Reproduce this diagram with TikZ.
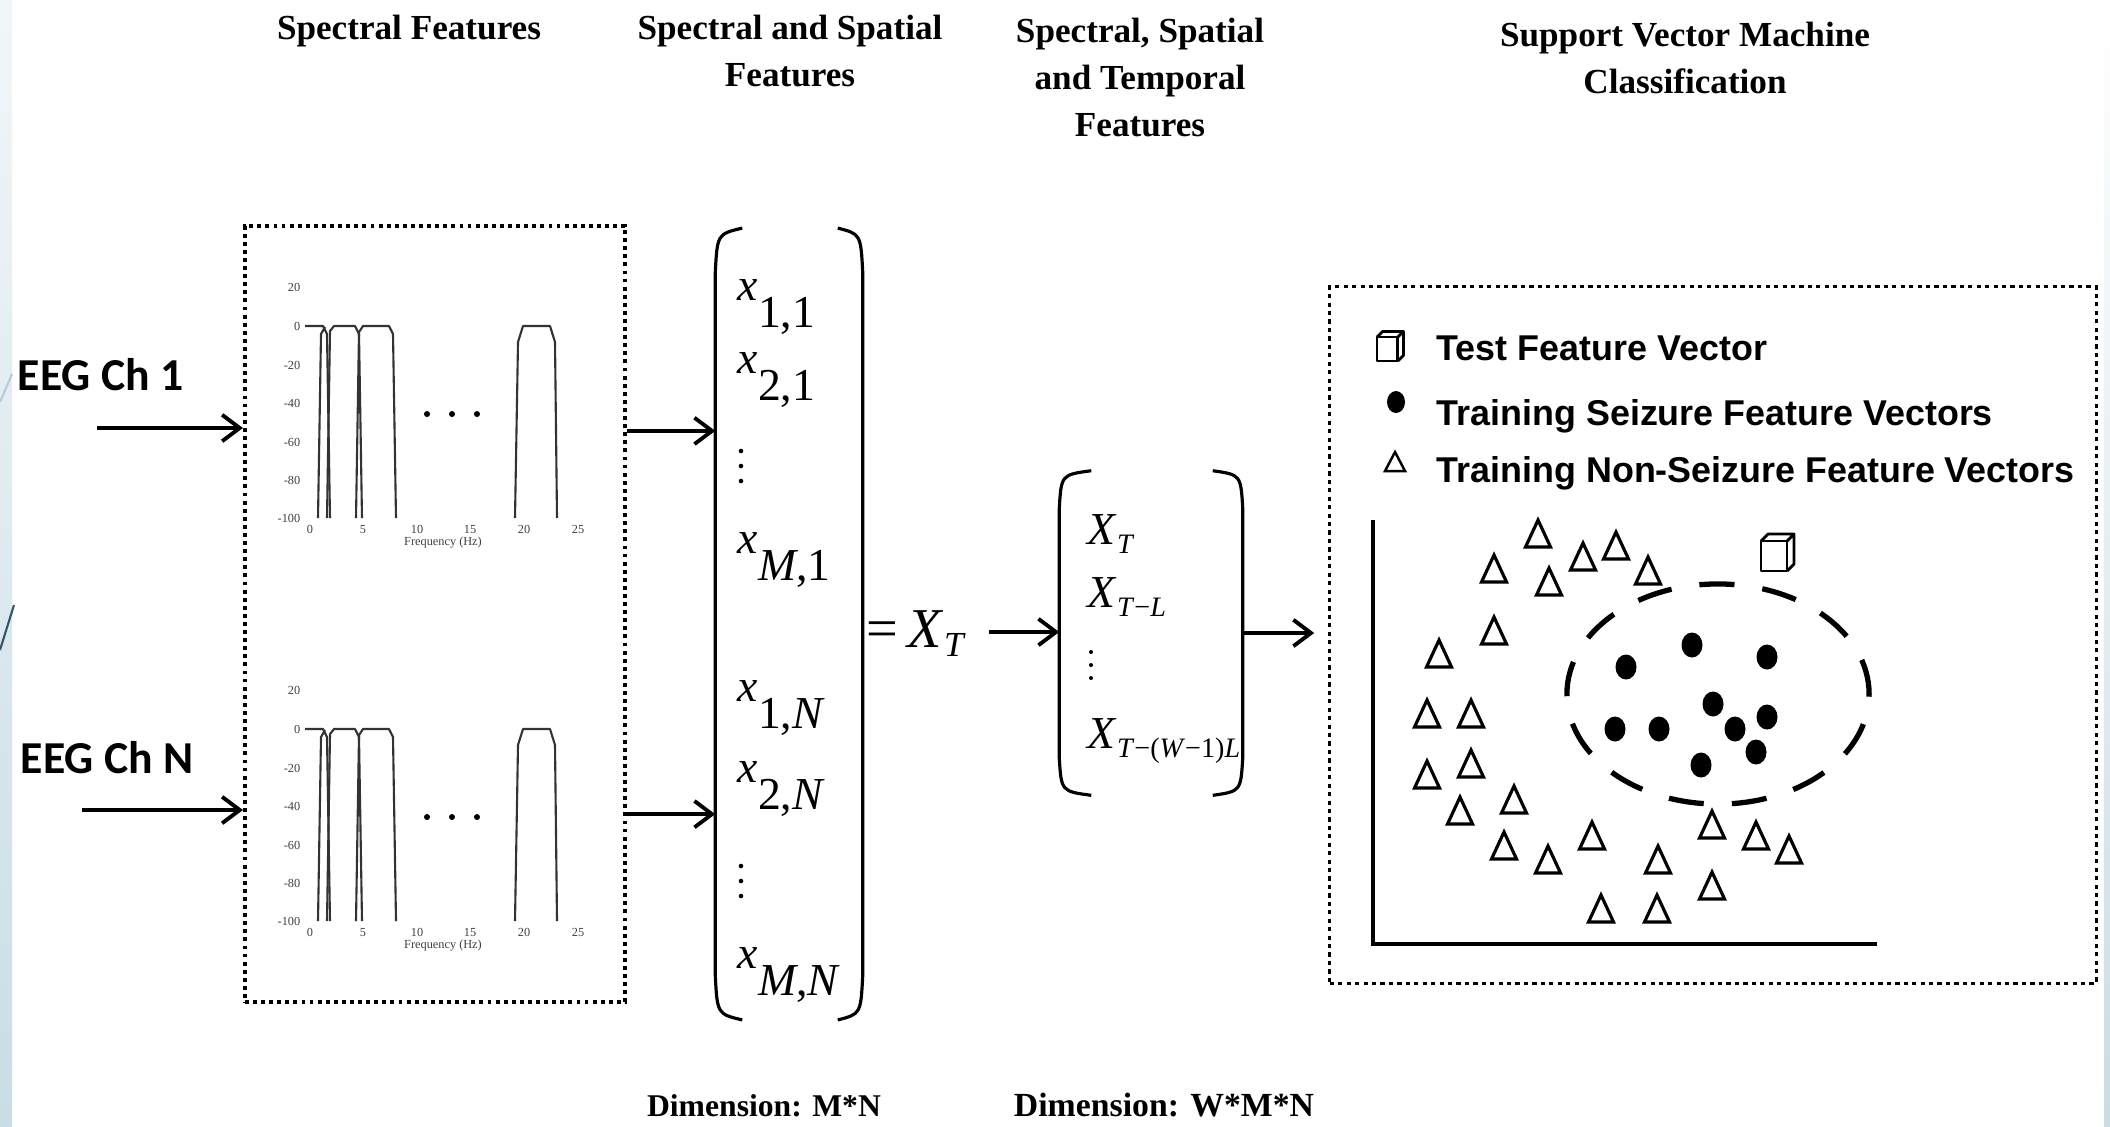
\documentclass[tikz,border=0pt]{standalone}
\usepackage{fontspec}
\setmainfont{Liberation Serif}
\newfontfamily\calibrifont{Carlito}
\newfontfamily\arialfont{Liberation Sans}
\usetikzlibrary{arrows.meta,positioning}
\definecolor{stripblue}{HTML}{C9DDE5}
\definecolor{stripdark}{HTML}{34566A}
\definecolor{stripline}{HTML}{B7CDD6}

% matrix entries: raised x with full size index
\newcommand{\xent}[1]{\raisebox{1.25ex}{\textit{x}}#1}
\newcommand{\Xsub}[1]{\textit{X}\raisebox{-0.45ex}{\fontsize{8}{9}\selectfont #1}}

\tikzset{
  testcube/.pic={
    \draw[line width=0.8pt, line join=round, fill=white] (0,0) rectangle (26,30);
    \draw[line width=0.8pt, line join=round] (0,0) -- (7,-7) -- (33,-7) -- (26,0)
      (33,-7) -- (33,23) -- (26,30);
  }
}

\begin{document}
\begin{tikzpicture}[x=0.01cm, y=-0.01cm,
    title/.style={font=\fontsize{10}{13.4}\selectfont\bfseries, align=center, anchor=north, inner sep=0pt},
    dimlabel/.style={font=\fontsize{9}{11}\selectfont\bfseries, anchor=base, inner sep=0pt},
    chan/.style={font=\calibrifont\bfseries\fontsize{13}{15}\selectfont, anchor=base west, inner sep=0pt},
    ent/.style={font=\fontsize{13}{15}\selectfont, anchor=base west, inner sep=0pt},
    legend/.style={font=\arialfont\bfseries\fontsize{10.2}{12}\selectfont, anchor=base west, inner sep=0pt},
    tick/.style={font=\fontsize{3.5}{4}\selectfont, inner sep=0pt, black!75},
    specbox/.style={draw, line width=1.1pt, dash pattern=on 1.1pt off 1.2pt, inner sep=0pt},
    svmbox/.style={draw, line width=0.9pt, dash pattern=on 1.2pt off 1.2pt, inner sep=0pt},
    arr/.style={-{Straight Barb[length=5pt,width=7.5pt]}, line width=1.1pt},
    paren/.style={line width=0.9pt},
    band/.style={line width=0.6pt, black!80, line join=round},
    tri/.style={line width=0.9pt, line join=miter},
    boundary/.style={line width=1.5pt, dash pattern=on 10pt off 8pt}
  ]
  % page and slide border strips
  \useasboundingbox (0,0) rectangle (2110,1126);
  \fill[white] (0,0) rectangle (2110,1126);
  \shade[top color=stripblue!25, bottom color=stripblue] (0,0) rectangle (12,1126);
  \shade[top color=white, bottom color=stripblue] (2104,0) rectangle (2110,1126);
  \draw[stripline, line width=0.6pt] (0,402) -- (12,374);
  \draw[stripdark, line width=0.6pt] (0,650) -- (14,605);

  % column titles
  \node[title] (t1) at (409,14) {Spectral Features};
  \node[title] (t2) at (790,14) {Spectral and Spatial\\Features};
  \node[title] (t3) at (1140,17) {Spectral, Spatial\\and Temporal\\Features};
  \node[title] (t4) at (1685,21) {Support Vector Machine\\Classification};

  % inputs
  \node[chan] (ch1) at (17,390) {EEG Ch 1};
  \node[chan] (chN) at (20,773) {EEG Ch N};
  \node[specbox, minimum width=3.8cm, minimum height=7.76cm] (spec) at (435,614) {};
  \coordinate (in1) at (97,428);
  \coordinate (inN) at (82,810);
  \draw[arr] (in1) -- (in1 -| spec.west);
  \draw[arr] (inN) -- (inN -| spec.west);

  % filter bank responses
  \foreach \oy in {0,403} {
    \begin{scope}[shift={(0,\oy)}]
      \foreach \lab/\ty in {20/287,0/326,-20/365,-40/403,-60/442,-80/480,-100/518}
        \node[tick, anchor=east] at (301,\ty) {\lab};
      \foreach \lab/\tx in {0/310,5/363,10/417,15/470,20/524,25/578}
        \node[tick, anchor=north] at (\tx,525) {\lab};
      \node[tick, anchor=north] at (443,536) {Frequency (Hz)};
      \draw[band] (305,326) -- (323,326) -- (327,334) -- (330,518);
      \draw[band] (318,518) -- (321,334) -- (325,327);
      \draw[band] (327,518) -- (330,331) -- (334,326) -- (355,326) -- (359,334) -- (362,518);
      \draw[band] (356,518) -- (359,332) -- (363,326) -- (389,326) -- (393,334) -- (396,518);
      \draw[band] (515,518) -- (518,342) -- (523,326) -- (550,326) -- (555,342) -- (557,518);
      \foreach \dx in {427,452,477}
        \fill (\dx,414) circle [radius=0.03cm];
    \end{scope}
  }

  % spectral and spatial feature vector
  \node[inner sep=0pt, minimum width=1.46cm, minimum height=7.9cm] (mat1) at (789,624) {};
  \draw[paren] ([xshift=0.27cm]mat1.north west) .. controls ([xshift=0.02cm,yshift=-0.06cm]mat1.north west) .. ([yshift=-0.45cm]mat1.north west)
    -- ([yshift=0.45cm]mat1.south west) .. controls ([xshift=0.02cm,yshift=0.06cm]mat1.south west) .. ([xshift=0.27cm]mat1.south west);
  \draw[paren] ([xshift=-0.25cm]mat1.north east) .. controls ([xshift=-0.02cm,yshift=-0.06cm]mat1.north east) .. ([yshift=-0.45cm]mat1.north east)
    -- ([yshift=0.45cm]mat1.south east) .. controls ([xshift=-0.02cm,yshift=0.06cm]mat1.south east) .. ([xshift=-0.25cm]mat1.south east);
  \node[ent] (x11) at (737,327) {\xent{1,1}};
  \node[ent] (x21) at (737,400) {\xent{2,1}};
  \coordinate (vd1) at (741,451);
  \node[ent] (xM1) at (737,580) {\xent{\textit{M},1}};
  \node[ent] (x1N) at (737,728) {\xent{1,\textit{N}}};
  \node[ent] (x2N) at (737,809) {\xent{2,\textit{N}}};
  \coordinate (vdN) at (741,866);
  \node[ent] (xMN) at (737,995) {\xent{\textit{M},\textit{N}}};
  \foreach \k in {0,1,2} {
    \fill ([yshift=-\k*0.15cm]vd1) circle [radius=0.023cm];
    \fill ([yshift=-\k*0.15cm]vdN) circle [radius=0.023cm];
  }
  \coordinate (s1) at ([yshift=1.83cm]spec.east);
  \coordinate (sN) at ([yshift=-2.00cm]spec.east);
  \draw[arr] (s1) -- (s1 -| mat1.west);
  \draw[arr] (sN) -- (sN -| mat1.west);
  \node[anchor=base west, inner sep=0pt, font=\fontsize{16}{18}\selectfont] (xt) at (866,647)
    {=\,\textit{X}\raisebox{-0.35ex}{\fontsize{10}{11}\selectfont\textit{T}}};

  % spectral, spatial and temporal feature vector
  \node[inner sep=0pt, minimum width=1.82cm, minimum height=3.23cm] (mat2) at (1151,633) {};
  \draw[paren] ([xshift=0.32cm]mat2.north west) .. controls ([xshift=0.02cm,yshift=-0.04cm]mat2.north west) .. ([yshift=-0.38cm]mat2.north west)
    -- ([yshift=0.38cm]mat2.south west) .. controls ([xshift=0.02cm,yshift=0.04cm]mat2.south west) .. ([xshift=0.32cm]mat2.south west);
  \draw[paren] ([xshift=-0.30cm]mat2.north east) .. controls ([xshift=-0.02cm,yshift=-0.04cm]mat2.north east) .. ([yshift=-0.38cm]mat2.north east)
    -- ([yshift=0.38cm]mat2.south east) .. controls ([xshift=-0.02cm,yshift=0.04cm]mat2.south east) .. ([xshift=-0.30cm]mat2.south east);
  \node[ent] (X0) at (1087,544) {\Xsub{\textit{T}}};
  \node[ent] (X1) at (1087,607) {\Xsub{\textit{T}−\textit{L}}};
  \coordinate (vd2) at (1091,652);
  \foreach \k in {0,1,2}
    \fill ([yshift=-\k*0.13cm]vd2) circle [radius=0.02cm];
  \node[ent] (XW) at (1087,748) {\Xsub{\textit{T}−(\textit{W}−1)\textit{L}}};
  \coordinate (xtout) at (989,632);
  \draw[arr] (xtout) -- (xtout -| mat2.west);

  % classification
  \node[svmbox, minimum width=7.66cm, minimum height=6.96cm] (svm) at (1713,635) {};
  \draw[arr, shorten >=0.14cm] (mat2.east) -- (mat2.east -| svm.west);

  \pic[scale=0.8] (lgcube) at (1377,337) {testcube};
  \node[legend] (lg1) at (1436,360) {Test Feature Vector};
  \fill (1396,402) ellipse [x radius=0.09cm, y radius=0.11cm];
  \node[legend] (lg2) at (1436,425) {Training Seizure Feature Vectors};
  \draw[line width=0.7pt] (1395,452) -- (1405,471) -- (1385,471) -- cycle;
  \node[legend] (lg3) at (1436,482) {Training Non-Seizure Feature Vectors};

  \coordinate (ytop) at (1373,520);
  \coordinate (orig) at (1373,944);
  \coordinate (xend) at (1877,944);
  \draw[line width=0.9pt] (ytop) -- (orig) -- (xend);

  \foreach \px/\py in {1538/534,1494/569,1549/582,1583/557,1616/546,1648/571,1494/631,1439/654,
      1427/714,1471/714,1427/775,1471/764,1514/800,1460/811,1504/846,1548/860,1592/836,1658/860,
      1712/825,1756/836,1789/850,1712/886,1601/909,1657/909}
    \draw[tri] (\px,\py) ++(0,-14) -- ++(12.5,27) -- ++(-25,0) -- cycle;
  \foreach \px/\py in {1626/667,1692/645,1767/657,1713/704,1767/717,1615/729,1659/729,1735/729,1756/752,1701/765}
    \fill (\px,\py) ellipse [x radius=0.105cm, y radius=0.125cm];
  \draw[boundary] (1718,694) ellipse [x radius=1.51cm, y radius=1.10cm];
  \pic (plotcube) at (1761,541) {testcube};

  % dimensions
  \node[dimlabel] (d1) at (764,1116) {Dimension: M*N};
  \node[dimlabel, font=\fontsize{9.6}{11}\selectfont\bfseries] (d2) at (1164,1116) {Dimension: W*M*N};
\end{tikzpicture}
\end{document}
